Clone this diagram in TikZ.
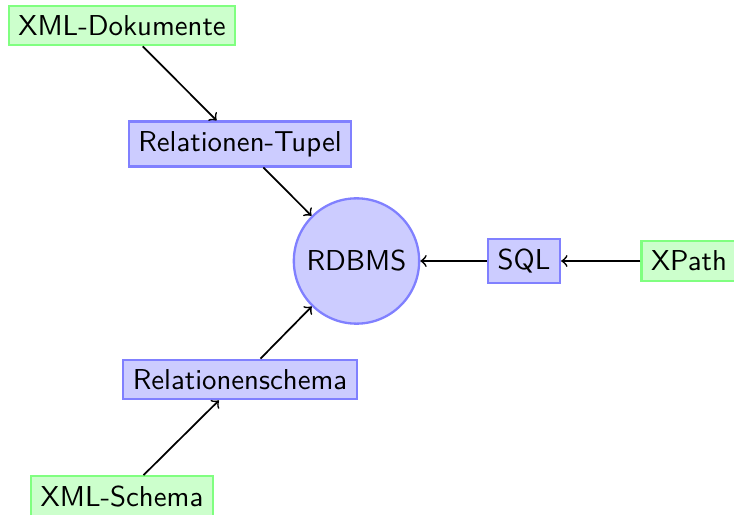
\documentclass[tikz,border=0pt]{standalone}
\begin{document}
\begin{tikzpicture}[x=0.3474pt,y=-0.3474pt,
  every node/.style={font=\sffamily},
  blk/.style={draw=blue!50, fill=blue!20, thick, rectangle},
  grn/.style={draw=green!50, fill=green!20, thick, rectangle},
  circ/.style={draw=blue!50, fill=blue!20, thick, circle},
  conn/.style={->, semithick}]
\useasboundingbox (0,0) rectangle (734,515);
\node[grn] (xmldok) at (122,25.5) {XML-Dokumente};
\node[blk] (tupel) at (240,144) {Relationen-Tupel};
\node[circ] (rdbms) at (356.5,261) {RDBMS};
\node[blk] (sql) at (524,261) {SQL};
\node[grn] (xpath) at (689,261) {XPath};
\node[blk] (schema) at (240,379.5) {Relationenschema};
\node[grn] (xmlsch) at (122,496.5) {XML-Schema};
\draw[conn] (xmldok) -- (tupel);
\draw[conn] (tupel) -- (rdbms);
\draw[conn] (schema) -- (rdbms);
\draw[conn] (xmlsch) -- (schema);
\draw[conn] (sql) -- (rdbms);
\draw[conn] (xpath) -- (sql);
\end{tikzpicture}
\end{document}
